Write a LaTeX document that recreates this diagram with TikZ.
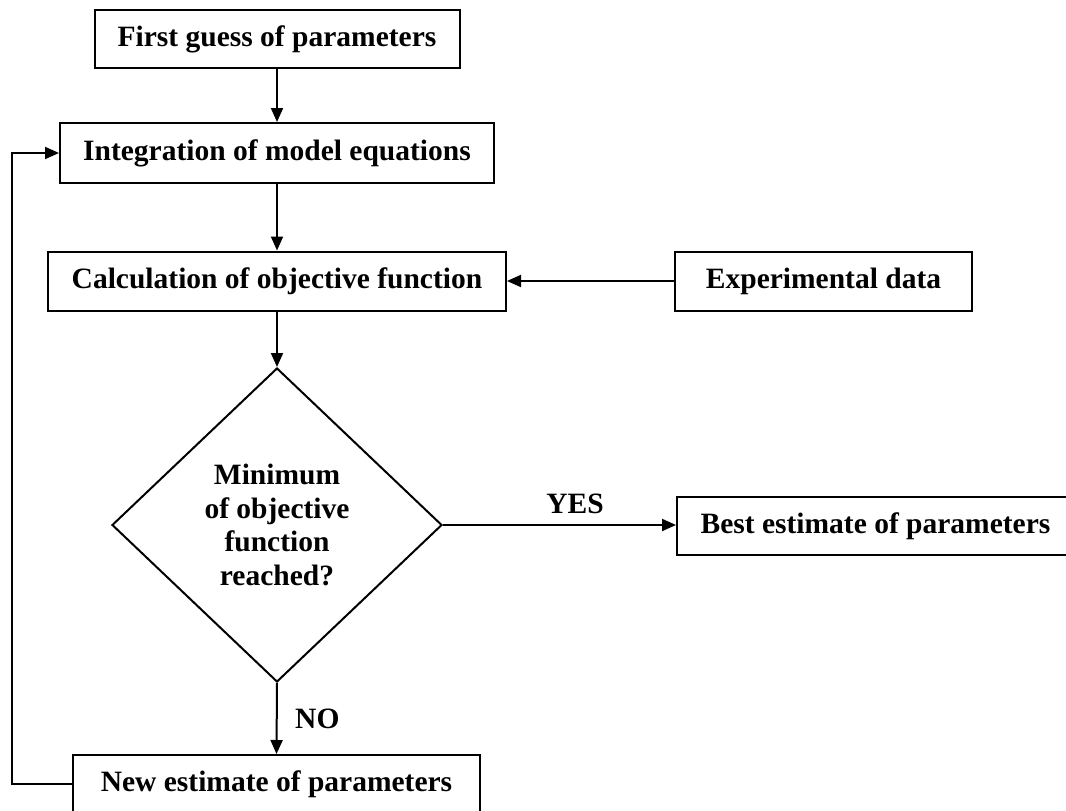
\documentclass[tikz,border=0pt]{standalone}
\usepackage{fontspec}
\setmainfont{Liberation Serif}
\usetikzlibrary{arrows.meta,shapes.geometric}

\tikzset{
  flowbox/.style={draw, line width=2pt, rectangle, inner sep=0pt, anchor=center,
    font=\bfseries\fontsize{29.5}{33.5}\selectfont},
  decision/.style={draw, line width=2pt, diamond, inner sep=0pt, anchor=center,
    align=center, font=\bfseries\fontsize{29.5}{33.5}\selectfont},
  flow/.style={line width=2pt, -{Triangle[length=14pt,width=12pt]}},
  tag/.style={font=\bfseries\fontsize{29.5}{33.5}\selectfont, inner sep=0pt}
}

\begin{document}
\begin{tikzpicture}[x=1pt, y=-1pt]
  \useasboundingbox (0,0) rectangle (1066,811);

  % process boxes
  \node[flowbox, minimum width=365pt, minimum height=58pt] (guess) at (277,39) {First guess of parameters};
  \node[flowbox, minimum width=434pt, minimum height=60pt] (integ) at (277,153) {Integration of model equations};
  \node[flowbox, minimum width=458pt, minimum height=59pt] (calc) at (277,281) {Calculation of objective function};
  \node[flowbox, minimum width=297pt, minimum height=59pt] (exper) at (823.5,281) {Experimental data};
  \node[decision, minimum width=330pt, minimum height=314pt] (check) at (277,525) {Minimum\\of objective\\function\\reached?};
  \node[flowbox, minimum width=397pt, minimum height=58pt] (best) at (875.5,526) {Best estimate of parameters};
  \node[flowbox, minimum width=407pt, minimum height=58pt] (newest) at (276.5,784) {New estimate of parameters};

  % corners of the feedback loop
  \coordinate (loopbot) at (12,784);
  \coordinate (looptop) at (12,153);

  % connectors
  \draw[flow] (guess) -- (integ);
  \draw[flow] (integ) -- (calc);
  \draw[flow] (exper) -- (calc);
  \draw[flow] (calc) -- (check.north);
  \draw[flow] (check.east) -- (check.east -| best.west);
  \draw[flow] (check.south) -- (newest.north);
  \draw[flow] (newest.west) -- (loopbot) -- (looptop) -- (integ.west);

  % branch labels
  \node[tag, anchor=base] (yes) at (575,513) {YES};
  \node[tag, anchor=base west] (no) at (295,728) {NO};
\end{tikzpicture}
\end{document}
